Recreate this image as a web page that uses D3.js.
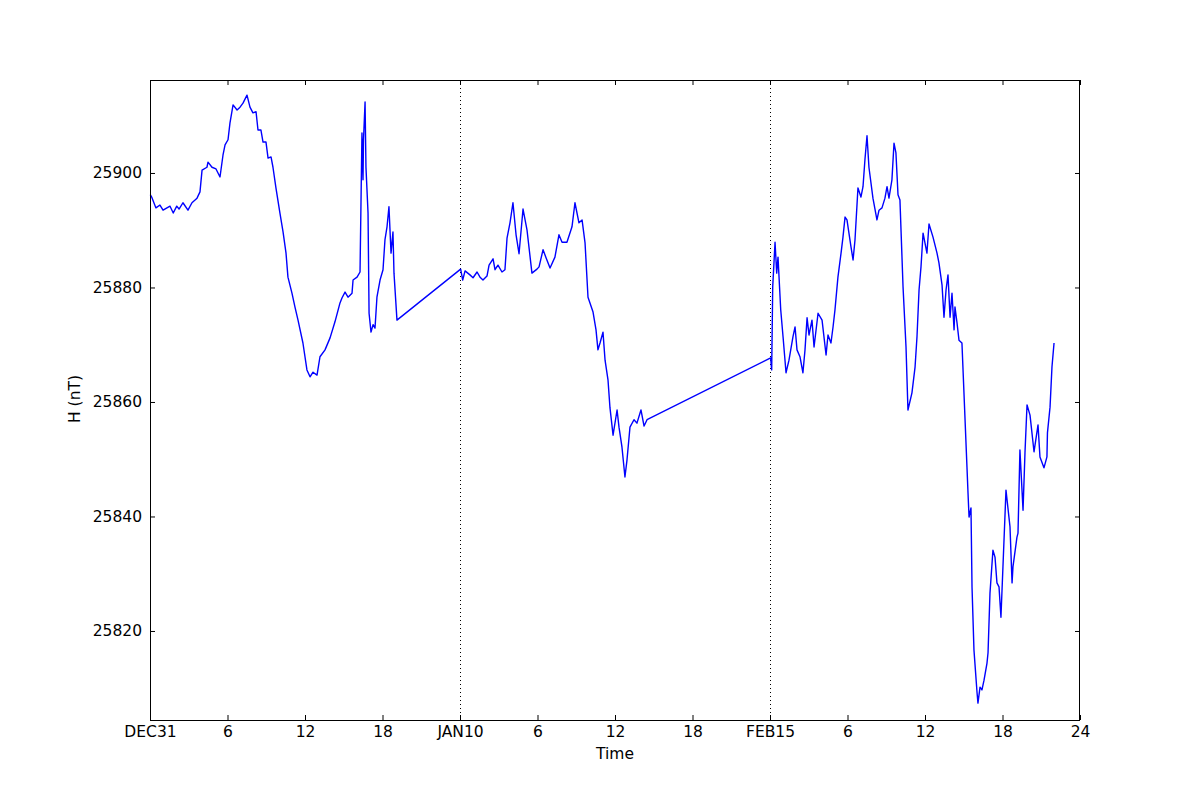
<!DOCTYPE html>
<html><head><meta charset="utf-8">
<script src="https://cdn.jsdelivr.net/npm/d3@7"></script>
<style>body{margin:0;background:#fff}svg{display:block}text{font-family:"DejaVu Sans",sans-serif}</style>
</head><body><svg id="c" width="1200" height="800"></svg>
<script>
const hours = [0.02,0.13,0.46,0.77,1.01,1.55,1.80,2.07,2.25,2.55,2.94,3.25,3.64,3.87,4.03,4.41,4.49,4.80,5.11,5.42,5.65,5.81,6.04,6.19,6.43,6.74,6.97,7.20,7.51,7.74,7.97,8.21,8.36,8.59,8.75,8.98,9.14,9.37,9.52,9.75,10.06,10.30,10.53,10.68,10.99,11.22,11.46,11.84,12.15,12.39,12.62,12.93,13.16,13.55,13.94,14.32,14.71,14.87,15.10,15.33,15.64,15.72,16.03,16.26,16.41,16.49,16.53,16.65,16.72,16.88,16.96,17.11,17.27,17.42,17.57,17.81,18.04,18.19,18.35,18.50,18.66,18.81,18.89,19.12,
24.05,24.21,24.39,24.77,25.01,25.32,25.55,25.78,26.09,26.25,26.56,26.71,26.94,27.25,27.48,27.64,27.87,28.10,28.34,28.57,28.88,29.19,29.57,29.96,30.12,30.43,30.66,30.97,31.35,31.66,31.90,32.28,32.67,32.90,33.21,33.45,33.68,33.91,34.30,34.53,34.68,34.84,35.07,35.23,35.46,35.61,35.85,36.16,36.31,36.54,36.77,36.93,37.16,37.47,37.70,38.01,38.25,38.48,
48.05,48.13,48.21,48.39,48.52,48.62,48.83,49.01,49.24,49.47,49.78,49.94,50.09,50.32,50.55,50.71,50.87,51.02,51.25,51.41,51.72,52.03,52.34,52.49,52.72,52.88,53.03,53.26,53.50,53.65,53.81,53.96,54.27,54.43,54.58,54.81,55.04,55.20,55.35,55.51,55.66,55.97,56.28,56.44,56.67,56.90,57.06,57.21,57.44,57.60,57.75,57.91,58.06,58.30,58.53,58.68,58.99,59.23,59.38,59.54,59.69,59.85,60.15,60.31,60.62,60.93,61.08,61.32,61.47,61.63,61.78,61.94,62.09,62.25,62.32,62.48,62.63,62.86,63.25,63.33,63.41,63.56,63.64,63.79,64.03,64.10,64.26,64.41,64.57,64.80,64.88,65.03,65.26,65.42,65.57,65.73,65.88,66.27,66.58,66.74,66.81,67.12,67.20,67.35,67.59,67.74,67.90,68.13,68.44,68.75,68.90,69.21,69.44,69.48,69.68,69.83,69.99];
const hValues = [25896.2,25895.8,25893.9,25894.4,25893.5,25894.2,25893.0,25894.2,25893.7,25894.8,25893.5,25894.8,25895.6,25896.7,25900.5,25901.0,25901.9,25901.0,25900.7,25899.3,25903.1,25904.9,25905.8,25908.7,25911.9,25911.0,25911.5,25912.2,25913.6,25911.5,25910.5,25910.7,25907.5,25907.5,25905.4,25905.4,25902.6,25902.8,25901.0,25897.4,25893.0,25889.7,25886.0,25881.8,25879.0,25876.6,25874.3,25870.3,25865.6,25864.4,25865.2,25864.7,25867.9,25869.1,25871.2,25874.0,25877.3,25878.2,25879.2,25878.3,25879.0,25881.3,25881.8,25882.7,25907.0,25898.8,25905.8,25912.4,25901.0,25893.0,25875.5,25872.2,25873.5,25872.9,25878.3,25881.3,25883.1,25888.3,25890.6,25894.1,25886.0,25889.7,25882.5,25874.3,
25883.2,25881.3,25882.9,25882.2,25881.7,25882.7,25881.8,25881.3,25882.0,25883.9,25885.0,25883.1,25883.9,25882.7,25883.1,25888.6,25891.3,25894.8,25889.2,25885.9,25893.7,25890.0,25882.5,25883.2,25883.6,25886.6,25885.2,25883.4,25885.3,25889.2,25887.9,25887.9,25890.6,25894.8,25891.3,25891.8,25887.8,25878.3,25875.7,25872.6,25869.1,25870.3,25872.2,25867.3,25863.8,25859.0,25854.2,25858.6,25855.6,25852.1,25846.9,25849.9,25855.6,25856.9,25856.3,25858.6,25855.8,25856.9,
25867.7,25865.6,25880.1,25887.9,25882.5,25885.3,25876.1,25871.4,25865.1,25867.3,25871.4,25873.1,25869.1,25867.9,25865.1,25869.1,25874.7,25871.7,25874.3,25869.6,25875.5,25874.3,25868.2,25871.7,25870.3,25873.1,25876.1,25881.8,25886.0,25888.8,25892.3,25891.8,25887.1,25884.8,25888.3,25897.4,25895.8,25897.6,25902.3,25906.5,25901.0,25895.6,25891.8,25893.5,25893.9,25895.6,25897.6,25895.6,25898.8,25905.2,25903.5,25896.2,25895.3,25880.1,25869.6,25858.6,25861.6,25866.1,25871.4,25879.6,25883.6,25889.5,25886.0,25891.1,25888.8,25886.0,25884.3,25880.4,25874.8,25879.6,25882.2,25874.8,25879.0,25872.6,25876.6,25873.8,25870.8,25870.3,25848.6,25844.1,25839.9,25841.5,25827.7,25816.7,25809.2,25807.4,25810.2,25809.7,25811.4,25814.4,25816.2,25826.6,25834.1,25832.9,25828.4,25827.7,25822.4,25844.6,25838.2,25828.4,25831.2,25836.4,25837.1,25851.6,25841.1,25851.1,25859.5,25857.7,25851.3,25856.0,25850.4,25848.5,25850.4,25854.6,25859.1,25866.1,25870.3];
const xTicks = [0,6,12,18,24,30,36,42,48,54,60,66,72];
const xTickLabels = ["DEC31","6","12","18","JAN10","6","12","18","FEB15","6","12","18","24"];
const yTicks = [25820,25840,25860,25880,25900];
const dayBreaks = [24,48];

const L=150,R=1080,T=80,B=720,FS="15.5px";
const svg=d3.select("#c");
const x=d3.scaleLinear().domain([0,72]).range([L,R]);
const y=d3.scaleLinear().domain([25804.45,25916.24]).range([B,T]);
const data=hours.map((h,i)=>({h,v:hValues[i]}));

svg.selectAll("line.brk").data(dayBreaks).enter().append("line")
  .attr("x1",d=>Math.round(x(d))+0.5).attr("x2",d=>Math.round(x(d))+0.5)
  .attr("y1",T).attr("y2",B).attr("stroke","#000").attr("stroke-width",1).attr("stroke-dasharray","1,3");

svg.append("path").datum(data)
  .attr("d",d3.line().x(d=>x(d.h)).y(d=>y(d.v)))
  .attr("fill","none").attr("stroke","#0000ff").attr("stroke-width",1.4).attr("stroke-linejoin","round");

const fmtX=(d,i)=>xTickLabels[i];
const ax=(g,axis)=>{g.call(axis);g.select(".domain").remove();g.selectAll("line").attr("stroke","#000");g.selectAll("text").attr("font-size",FS).attr("fill","#000").attr("font-family","DejaVu Sans");};
svg.append("g").attr("transform",`translate(0,${B})`).call(g=>ax(g,d3.axisBottom(x).tickValues(xTicks).tickFormat(fmtX).tickSizeInner(-5).tickPadding(6)));
svg.append("g").attr("transform",`translate(0,${T})`).call(g=>{ax(g,d3.axisTop(x).tickValues(xTicks).tickSizeInner(-5));g.selectAll("text").remove();});
svg.append("g").attr("transform",`translate(${L},0)`).call(g=>ax(g,d3.axisLeft(y).tickValues(yTicks).tickFormat(d3.format("d")).tickSizeInner(-5).tickPadding(8)));
svg.append("g").attr("transform",`translate(${R},0)`).call(g=>{ax(g,d3.axisRight(y).tickValues(yTicks).tickSizeInner(-5));g.selectAll("text").remove();});

svg.append("rect").attr("x",L+0.5).attr("y",T+0.5).attr("width",R-L-1).attr("height",B-T).attr("fill","none").attr("stroke","#000").attr("stroke-width",1);

svg.append("text").attr("x",(L+R)/2).attr("y",759).attr("text-anchor","middle").attr("font-size",FS).text("Time");
svg.append("text").attr("transform","translate(80,399) rotate(-90)").attr("text-anchor","middle").attr("font-size",FS).text("H (nT)");
</script></body></html>
